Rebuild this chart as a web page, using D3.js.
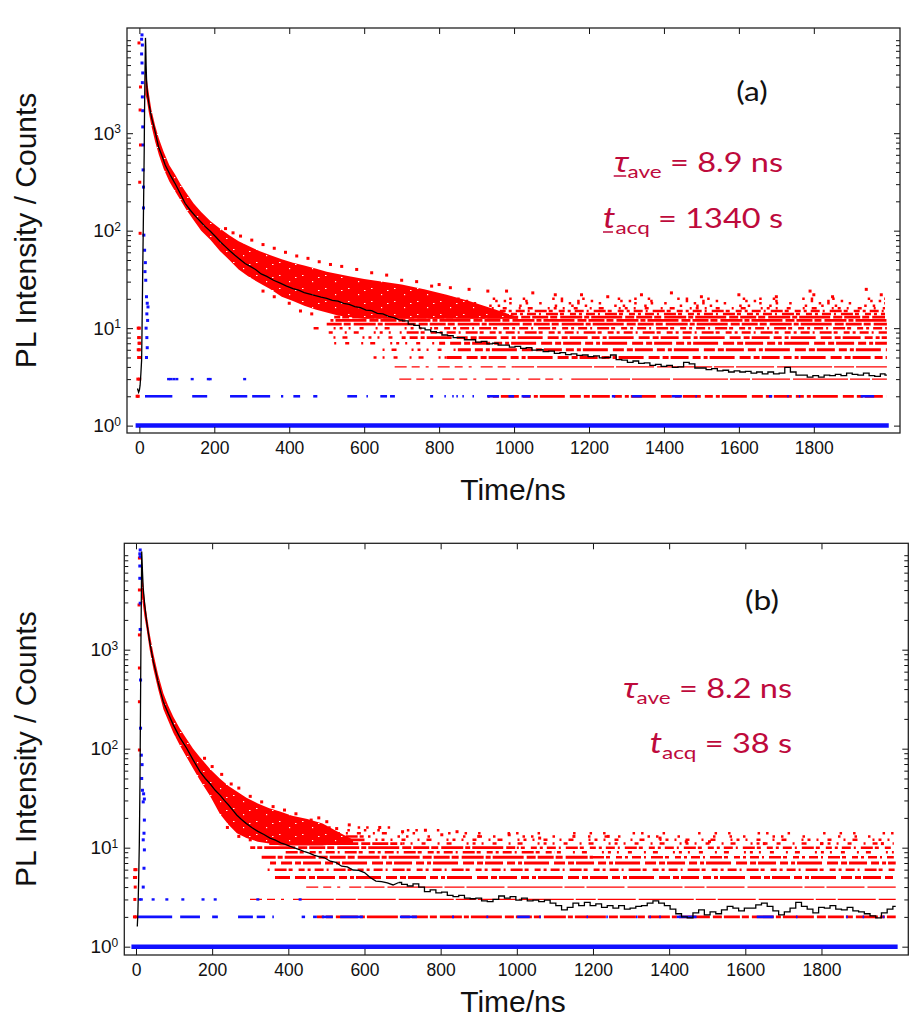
<!DOCTYPE html>
<html><head><meta charset="utf-8">
<script src="https://cdn.jsdelivr.net/npm/d3@7"></script>
<style>body{margin:0;background:#fff}</style>
</head><body>
<svg id="c" width="916" height="1024"></svg>
<script>
// ---------------- DATA ----------------
const xTicks = [0,200,400,600,800,1000,1200,1400,1600,1800];
const yMajor = [1,10,100,1000];
const yTitle = "PL Intensity / Counts";
const xTitle = "Time/ns";
const panelLabels = ["(a)","(b)"];
const tauValues = ["8.9","8.2"];
const tacqValues = ["1340","38"];

// black averaged decay curves [t(ns), counts]
const curveA = [[-5,2.4],[-2,2.2],[0,2.3],[2,2.6],[4,3.4],[6,4.7],[7,9],[8,19],[9,40],[10,80],[11,160],[12,330],[13,700],[13.6,1370],[14.5,2800],[15.5,5600],[16.3,9500],[17,8000],[18,5000],[19,3700],[20,3000],[22,2500],[25,2050],[29,1700],[33,1420],[38,1200],[44,960],[51,727],[60,590],[69,472],[82,375],[95,306],[108,245],[122,191],[136,162],[150,140],[163,124],[176,110],[190,98],[203,87],[216,77],[229,69],[242,62],[255,56],[268,51],[282,46],[296,43],[310,40],[325,36],[340,34],[358,31],[376,29],[393,27],[410,25.5],[425,24.5],[440,23.2],[455,22.3],[470,21.5],[485,20.8],
[500,20.2],[515,19.3],[530,18.9],[545,18.0],[560,17.5],[575,16.6],[590,16.2],[605,15.3],[620,15.1],[635,14.2],[650,14.0],[665,13.2],[680,12.8],[695,12.1],[710,11.9],[725,11.0],[740,10.7],[755,10.0],[770,9.6],[785,9.2],[800,9.0],[815,8.5],[830,8.4],[845,8.0],[860,8.0],[875,7.6],[890,7.6],[905,7.2],[920,7.3],[935,6.9],[950,7.0],[965,6.7],[980,6.7],[995,6.4],[1010,6.5],[1025,6.2],[1040,6.3],[1055,5.95],[1070,6.0],[1085,5.75],[1100,5.8],[1115,5.5],[1130,5.6],[1145,5.35],[1160,5.45],[1175,5.25],[1190,5.3],[1205,5.1],[1220,5.2],[1235,4.95],[1250,5.0],[1265,5.3],[1280,4.75],[1295,4.7],[1310,4.45],[1325,4.6],[1340,4.35],[1355,4.4],[1370,4.15],[1385,4.25],[1400,4.05],[1415,4.15],[1430,3.95],[1445,4.0],[1460,4.45],[1475,4.3],[1490,3.9],[1505,3.9],[1520,3.75],[1535,3.85],[1550,3.65],[1565,3.7],[1580,3.55],[1595,3.65],[1610,3.55],[1625,3.6],[1640,3.45],[1655,3.55],[1670,3.4],[1685,3.55],[1700,3.4],[1715,3.45],[1730,3.95],[1745,3.55],[1760,3.3],[1775,3.3],[1790,3.15],[1805,3.25],[1820,3.15],[1835,3.3],[1850,3.25],[1865,3.35],[1880,3.25],[1895,3.45],[1910,3.35],[1925,3.3],[1940,3.45],[1955,3.25],[1970,3.2],[1985,3.4],[1995,3.3]];

const curveB = [[3.4,1.6],[5,2.2],[7,4.7],[8.7,10.7],[9.6,22],[10.5,48],[11.4,150],[12.3,494],[13,1200],[14,3200],[15,9800],[16,8000],[17,6200],[19,4170],[23,2800],[28,1918],[36,1200],[45.5,757],[52,600],[58,470],[65,370],[71.7,298],[85,225],[98,174],[115,130],[133,101],[150,77],[168,58.6],[182,50],[195,44],[208,38],[220.6,34],[232,30],[243,27],[254,24],[264.5,21.4],[277,19.3],[290,17.5],[305,15.9],[320,14.6],[336,13.6],[352,12.5],[366,11.9],[380,11.2],[392,10.8],[405,10.3],[418,9.9],[431,9.5],[443,9.1],[455,8.8],[467,8.4],
[480,8.1],[495,7.9],[510,7.3],[525,7.1],[540,6.5],[555,6.4],[570,5.95],[585,5.9],[600,5.6],[615,5.0],[630,4.6],[645,4.55],[660,4.4],[675,4.2],[690,4.45],[705,4.25],[720,4.1],[735,4.3],[750,4.0],[765,3.6],[780,3.75],[795,3.5],[810,3.55],[825,3.3],[840,3.2],[855,3.3],[870,3.1],[885,3.05],[900,3.1],[915,2.9],[930,2.85],[945,3.0],[960,3.25],[975,3.1],[990,3.2],[1005,2.95],[1020,3.1],[1035,2.9],[1050,2.95],[1065,2.85],[1080,2.95],[1095,2.75],[1110,2.6],[1125,2.35],[1140,2.5],[1155,2.75],[1170,2.6],[1185,2.8],[1200,2.6],[1215,2.7],[1230,2.5],[1245,2.6],[1260,2.45],[1275,2.6],[1290,2.4],[1305,2.45],[1320,2.55],[1335,2.6],[1350,2.75],[1365,2.9],[1380,2.75],[1395,2.6],[1410,2.4],[1425,2.15],[1440,2.0],[1455,1.95],[1470,2.2],[1485,2.35],[1500,2.1],[1515,2.25],[1530,2.15],[1545,2.35],[1560,2.55],[1575,2.45],[1590,2.3],[1605,2.45],[1620,2.45],[1635,2.65],[1650,2.75],[1665,2.55],[1680,2.3],[1695,2.1],[1710,2.25],[1725,2.45],[1740,2.8],[1755,2.55],[1770,2.4],[1785,2.2],[1800,2.5],[1815,2.45],[1830,2.6],[1845,2.4],[1860,2.35],[1875,2.5],[1890,2.3],[1905,2.25],[1920,2.15],[1935,2.05],[1950,1.95],[1965,2.2],[1980,2.4],[1995,2.55]];

// dense red photon-count cloud: [t, upper, lower]
const cloudA = [[16,4300,2500],[20,3600,2200],[25,2600,1650],[32,1750,1200],[42,1200,820],[52,880,600],[65,640,430],[80,470,320],[95,380,255],[110,300,205],[125,245,165],[145,190,128],[165,155,100],[190,125,80],[215,105,62],[240,90,50],[265,78,40],[290,70,34],[320,62,29],[350,56,25],[380,51,21],[410,47,19],[440,44,17],[470,41,15.5],[500,38,14.5],[530,36,13.5],[560,34,13],[600,32,12.5],[650,30,12.5],[700,28,12.5],[760,25,12.5],[820,22,12.5],[880,19,12.5],[950,15.5,12.5],[1010,13,12.5]];
const cloudB = [[15,6500,3500],[18,5000,2900],[22,3400,2200],[28,2300,1600],[36,1450,1000],[46,900,630],[58,560,400],[72,360,250],[85,270,190],[98,210,145],[115,160,108],[133,125,82],[150,100,63],[168,82,48],[195,62,33],[220,50,22],[243,42,17],[265,37,14],[290,32,12.5],[320,28,11.5],[350,25,11],[380,23,10.5],[410,21,10.5],[450,19.5,10.5],[490,17.5,10.5],[530,14.5,11],[570,12,11]];

// red integer-count rows: [count, tStart, tEnd, density]
const redRowsA = [[20,560,1990,"dots"],[19,600,1990,"dots"],[18,580,1990,"dots"],[17,560,1990,"dots"],[16,540,1990,"sparse"],[15,540,1990,"medium"],[14,530,1990,"medium"],[13,520,1990,"dense"],[12,510,1995,"dense"],[11,500,1995,"dense"],[10,465,776,"sparse"],[10,776,1995,"medium"],[9,500,700,"sparse"],[9,700,1995,"medium"],[8,518,700,"sparse"],[8,700,1995,"thick"],[7,520,800,"sparse"],[7,800,1995,"thick"],[6,625,850,"sparse"],[6,850,1995,"thick"],[5,625,820,"sparse"],[5,820,1995,"thick"],[4,660,1000,"thinSparse"],[4,1000,1995,"thin"],[3,675,1160,"thinSparse"],[3,1160,1995,"thin"],[2,930,1995,"thick"]];
const redRowsB = [[16,330,700,"dots"],[15,320,800,"dots"],[14,320,700,"sparse"],[14,700,1990,"dots"],[13,330,600,"medium"],[13,600,1990,"dots"],[12,340,600,"dense"],[12,600,1990,"sparse"],[11,350,700,"dense"],[11,700,1990,"sparse"],[10,300,1000,"dense"],[10,1000,1990,"medium"],[9,380,1100,"medium"],[9,1100,1990,"sparse"],[8,330,1200,"dense"],[8,1200,1990,"medium"],[7,352,1995,"thick"],[6,343,1995,"medium"],[5,365,1995,"thick"],[4,426,600,"thinSparse"],[4,600,1995,"thin"],[3,281,430,"thinSparse"],[3,430,1995,"thin"],[2,475,1995,"dense"]];

// isolated red counts [t, counts]
const redDotsA = [[230,105],[250,95],[270,88],[300,80],[330,72],[360,66],[390,60],[420,55],[450,52],[480,48],[510,45],[540,43],[580,40],[620,37],[660,35],[700,31],[740,30],[780,27],[330,24],[360,21],[400,18],[430,15],[460,14],[800,28],[830,26],[880,25],[930,24],[980,24],[1050,23],[1110,22],[1180,22],[1250,21],[1340,22],[1420,23],[1500,21],[1600,22],[1700,21],[1790,24],[1800,22],[1850,21],[1940,25],[1980,22]];
const redDotsB = [[180,80],[200,66],[225,55],[250,44],[270,40],[300,33],[330,29],[360,26],[390,24],[420,22],[480,20],[240,16],[270,13],[300,12],[460,19],[501,18.3],[527,15.6],[560,17],[640,16],[700,14.5],[760,15],[803,13.5],[843,14.5],[900,13],[980,13.5],[1060,12.5],[1150,13],[1240,13],[1376,12.5],[1445,11.5],[1506,11.5],[1650,11],[1800,11],[1960,11]];
const redEarlyA = [[-1,8430],[3,2980],[2,1730],[3,757],[1,314],[2,94],[0,10],[-3,10],[0,8],[-2,8],[1,7],[-1,7],[0,6],[-3,6],[1,5],[-2,5],[-4,3],[1,3],[-6,2],[-3,2]];
const redEarlyB = [[9,8430],[9,4010],[8,2830],[9,1410],[9,653],[9,298],[9,97],[-3,6],[0,6],[-1,5],[-4,5],[-2,4],[-3,3],[-4,2],[0,2]];

// blue IRF: rows [count, tStart, tEnd], level-3 dots [t], points [t, counts]
const blueRowsA = [[1,-10,2000],[2,15,88],[2,141,181],[2,242,288],[2,301,349],[2,378,384],[2,411,429],[2,464,475],[2,555,581],[2,606,610],[2,643,661],[2,669,682],[2,776,784],[2,814,818],[2,835,839],[2,846,850],[2,862,866],[2,889,893],[2,928,960],[2,985,1000],[2,1020,1043],[2,1261,1270],[2,1314,1341],[2,1421,1448],[2,1484,1488],[2,1680,1689],[2,1729,1733],[2,1760,1764],[2,1925,1961]];
const blueRowsB = [[1,-12,2000],[2,5,95],[2,116,168],[2,200,215],[2,268,307],[2,317,339],[2,358,362],[2,435,444],[2,465,475],[2,488,517],[2,536,596],[2,693,738],[2,830,835],[2,920,925],[2,1001,1034],[2,1059,1063],[2,1183,1187],[2,1235,1239],[2,1313,1317],[2,1348,1352],[2,1374,1378],[2,1420,1472],[2,1630,1674],[2,1733,1737],[2,1865,1869],[2,1908,1912],[2,1961,1965]];
const blueDotsA = [78,84,92,100,141,184,189,281];
const blueDotsB = [10,14,45,81,123,176,208,320,431];
const irfA = [[7,10200],[6,9200],[8,8030],[6,6500],[7,5250],[9,4150],[8,3300],[8,2355],[9,1700],[9,1160],[10,757],[10,420],[11,280],[11,171],[12,90],[14,63],[16,47],[15,38],[17,31],[19,21],[21,18],[23,16.5],[20,14],[22,12],[18,10],[20,8],[21,6.3],[19,5]];
const irfB = [[11,10170],[10,9300],[11,8700],[10,7000],[10,5260],[11,2945],[11,1600],[12,494],[12,161],[14,86],[16,69],[15,50],[17,38],[20,35],[22,31],[19,29],[22,19],[21,14],[19,12],[22,9.5],[21,6.2],[19,4]];

// ---------------- DRAWING ----------------
const RED = "#ff0000", BLUE = "#1010ff", CRIMSON = "#be0a3c";
const svg = d3.select("#c");
const defs = svg.append("defs");
// lightly speckled red texture for the dense photon cloud
const pat = defs.append("pattern").attr("id", "speckle").attr("patternUnits", "userSpaceOnUse")
  .attr("width", 23).attr("height", 13);
pat.append("rect").attr("width", 23).attr("height", 13).attr("fill", RED);
[[3,2,1.5,1],[13,8,1.2,1.2],[19,4,1.5,1]].forEach(r =>
  pat.append("rect").attr("x", r[0]).attr("y", r[1]).attr("width", r[2]).attr("height", r[3]).attr("fill", "#fff"));

const rowStyle = {
  dense:      {w:2.8, dash:"16 2 7 3 22 2 5 2 31 3 9 2"},
  thick:      {w:2.8, dash:"11 3 6 2 18 4 8 3 4 2 25 5"},
  medium:     {w:2.5, dash:"6 3 3 4 9 3 2 5 12 2 4 6"},
  sparse:     {w:2.5, dash:"3 6 2 9 4 12 2 7 5 15 2 4"},
  dots:       {w:2.5, dash:"2.5 11 2.5 27 2.5 6 2.5 19 2.5 33 2.5 14"},
  thin:       {w:1.3, dash:"38 3 55 2 20 2"},
  thinSparse: {w:1.3, dash:"8 6 3 9 12 5"}
};

const panels = [
  {id:"a", left:127, right:900, top:28, bottom:433, x0:-33, x1:2030, y0:0.84, y1:12000,
   curve:curveA, cloud:cloudA, redRows:redRowsA, redDots:redDotsA, redEarly:redEarlyA,
   blueRows:blueRowsA, blueDots:blueDotsA, irf:irfA, label:panelLabels[0], tau:tauValues[0], tacq:tacqValues[0],
   labelX:752, labelY:101, annX:783, tauY:172, tacqY:228, underline:true, xTitleY:500},
  {id:"b", left:124.3, right:908.3, top:543.3, bottom:955, x0:-30.7, x1:2028, y0:0.824, y1:11875,
   curve:curveB, cloud:cloudB, redRows:redRowsB, redDots:redDotsB, redEarly:redEarlyB,
   blueRows:blueRowsB, blueDots:blueDotsB, irf:irfB, label:panelLabels[1], tau:tauValues[1], tacq:tacqValues[1],
   labelX:762, labelY:610, annX:792, tauY:698, tacqY:753, underline:false, xTitleY:1012}
];

panels.forEach(p => {
  const x = d3.scaleLinear().domain([p.x0, p.x1]).range([p.left, p.right]);
  const y = d3.scaleLog().domain([p.y0, p.y1]).range([p.bottom, p.top]);
  const g = svg.append("g");
  const clipId = "clip-" + p.id;
  defs.append("clipPath").attr("id", clipId).append("rect")
     .attr("x", p.left).attr("y", p.top).attr("width", p.right - p.left).attr("height", p.bottom - p.top);
  const data = g.append("g").attr("clip-path", `url(#${clipId})`);

  // red rows
  data.append("g").selectAll("line").data(p.redRows).join("line")
    .attr("x1", d => x(d[1])).attr("x2", d => x(d[2]))
    .attr("y1", d => y(d[0])).attr("y2", d => y(d[0]))
    .attr("stroke", RED)
    .attr("stroke-width", d => rowStyle[d[3]].w)
    .attr("stroke-dasharray", d => rowStyle[d[3]].dash)
    .attr("stroke-dashoffset", d => (d[0] * 53) % 97);

  // red cloud
  data.append("path").datum(p.cloud)
    .attr("d", d3.area().x(d => x(d[0])).y0(d => y(d[2])).y1(d => y(d[1])))
    .attr("fill", "url(#speckle)");

  // red isolated points
  data.append("g").selectAll("rect").data(p.redDots.concat(p.redEarly)).join("rect")
    .attr("x", d => x(d[0]) - 1.5).attr("y", d => y(d[1]) - 1.5)
    .attr("width", 3).attr("height", 3).attr("fill", RED);

  // blue rows
  data.append("g").selectAll("line").data(p.blueRows).join("line")
    .attr("x1", d => x(d[1])).attr("x2", d => x(d[2]))
    .attr("y1", d => y(d[0])).attr("y2", d => y(d[0]))
    .attr("stroke", BLUE)
    .attr("stroke-width", d => d[0] === 1 ? 4.5 : 2.6);

  // blue level-3 dots
  data.append("g").selectAll("rect").data(p.blueDots).join("rect")
    .attr("x", d => x(d) - 1.5).attr("y", y(3) - 1.2)
    .attr("width", 3).attr("height", 2.4).attr("fill", BLUE);

  // IRF points
  data.append("g").selectAll("rect").data(p.irf).join("rect")
    .attr("x", d => x(d[0]) - 1.5).attr("y", d => y(d[1]) - 1.5)
    .attr("width", 3).attr("height", 3).attr("fill", BLUE);

  // black curve: smooth in the decay, histogram-like steps in the noisy tail
  data.append("path").datum(p.curve.filter(d => d[0] <= 700))
    .attr("d", d3.line().x(d => x(d[0])).y(d => y(d[1])))
    .attr("fill", "none").attr("stroke", "#000").attr("stroke-width", 1.3);
  data.append("path").datum(p.curve.filter(d => d[0] >= 690))
    .attr("d", d3.line().curve(d3.curveStep).x(d => x(d[0])).y(d => y(d[1])))
    .attr("fill", "none").attr("stroke", "#000").attr("stroke-width", 1.3);

  // axes
  const minor = [];
  for (let e = 0; e <= 4; e++) for (let k = 2; k <= 9; k++) {
    const v = k * Math.pow(10, e);
    if (v > p.y0 && v < p.y1) minor.push(v);
  }
  const axFont = a => a.attr("font-family", "'Liberation Sans', Arial, sans-serif").attr("font-size", 17.5);
  g.append("g").attr("transform", `translate(0,${p.bottom})`)
    .call(d3.axisBottom(x).tickValues(xTicks).tickSize(-6).tickPadding(8.6).tickFormat(d3.format("d")))
    .call(axFont).call(a => a.select(".domain").remove())
    .call(a => a.selectAll("text").attr("fill", "#111"));
  g.append("g").attr("transform", `translate(0,${p.top})`)
    .call(d3.axisTop(x).tickValues(xTicks).tickSize(-6).tickFormat(""))
    .call(a => a.select(".domain").remove());
  g.append("g").attr("transform", `translate(${p.left},0)`)
    .call(d3.axisLeft(y).tickValues(minor).tickSize(-4).tickFormat(""))
    .call(a => a.select(".domain").remove());
  g.append("g").attr("transform", `translate(${p.right},0)`)
    .call(d3.axisRight(y).tickValues(minor).tickSize(-4).tickFormat(""))
    .call(a => a.select(".domain").remove());
  g.append("g").attr("transform", `translate(${p.right},0)`)
    .call(d3.axisRight(y).tickValues(yMajor).tickSize(-6).tickFormat(""))
    .call(a => a.select(".domain").remove());
  const yl = g.append("g").attr("transform", `translate(${p.left},0)`)
    .call(d3.axisLeft(y).tickValues(yMajor).tickSize(-6).tickPadding(6))
    .call(a => a.select(".domain").remove())
    .attr("font-family", "'Liberation Sans', Arial, sans-serif").attr("font-size", 19);
  yl.selectAll(".tick text").each(function(d) {
    const s = d3.select(this).attr("fill", "#111");
    s.text(null);
    s.append("tspan").text("10");
    s.append("tspan").attr("dy", "-0.55em").attr("font-size", 12).text(Math.round(Math.log10(d)));
  });
  g.selectAll(".tick line").attr("stroke", "#111").attr("stroke-width", 1);

  // frame
  g.append("rect").attr("x", p.left).attr("y", p.top)
    .attr("width", p.right - p.left).attr("height", p.bottom - p.top)
    .attr("fill", "none").attr("stroke", "#222").attr("stroke-width", 1.3);

  // axis titles
  g.append("text").attr("transform", `translate(36,${(p.top + p.bottom) / 2}) rotate(-90)`)
    .attr("text-anchor", "middle").attr("font-family", "'Liberation Sans', Arial, sans-serif")
    .attr("font-size", 30).attr("fill", "#111").text(yTitle);
  g.append("text").attr("x", 513).attr("y", p.xTitleY).attr("text-anchor", "middle")
    .attr("font-family", "'Liberation Sans', Arial, sans-serif")
    .attr("font-size", 30).attr("fill", "#111").text(xTitle);

  // annotations (text boxes in the original are horizontally stretched)
  const af = "Lato, 'Open Sans', sans-serif";
  g.append("text").attr("transform", `translate(${p.labelX},${p.labelY}) scale(1.22,1)`)
    .attr("text-anchor", "middle")
    .attr("font-family", af).attr("font-size", 26).attr("fill", "#111").text(p.label);
  const mk = (yy) => g.append("g").attr("transform", `translate(${p.annX},${yy}) scale(1.25,1)`);
  const g1 = mk(p.tauY), g2 = mk(p.tacqY);
  const t1 = g1.append("text").attr("text-anchor", "end")
    .attr("font-family", af).attr("font-size", 26).attr("fill", CRIMSON);
  t1.append("tspan").attr("font-family", "'Noto Sans', 'DejaVu Sans', sans-serif").attr("font-style", "italic").attr("font-size", 27).text("τ");
  t1.append("tspan").attr("font-size", 18).attr("dy", 6).text("ave");
  t1.append("tspan").attr("dy", -6).text("\u00A0= " + p.tau + " ns");
  const t2 = g2.append("text").attr("text-anchor", "end")
    .attr("font-family", af).attr("font-size", 26).attr("fill", CRIMSON);
  t2.append("tspan").attr("font-style", "italic").attr("font-size", 28).text("t");
  t2.append("tspan").attr("font-size", 18).attr("dy", 6).text("acq");
  t2.append("tspan").attr("dy", -6).text("\u00A0= " + p.tacq + " s");
  if (p.underline) {
    [[g1, t1, 10], [g2, t2, 8]].forEach(([gg, t, len]) => {
      const x0 = t.node().getStartPositionOfChar(0).x;
      gg.append("line").attr("x1", x0).attr("x2", x0 + len)
        .attr("y1", 4).attr("y2", 4)
        .attr("stroke", CRIMSON).attr("stroke-width", 1.5);
    });
  }
});
</script>
</body></html>
